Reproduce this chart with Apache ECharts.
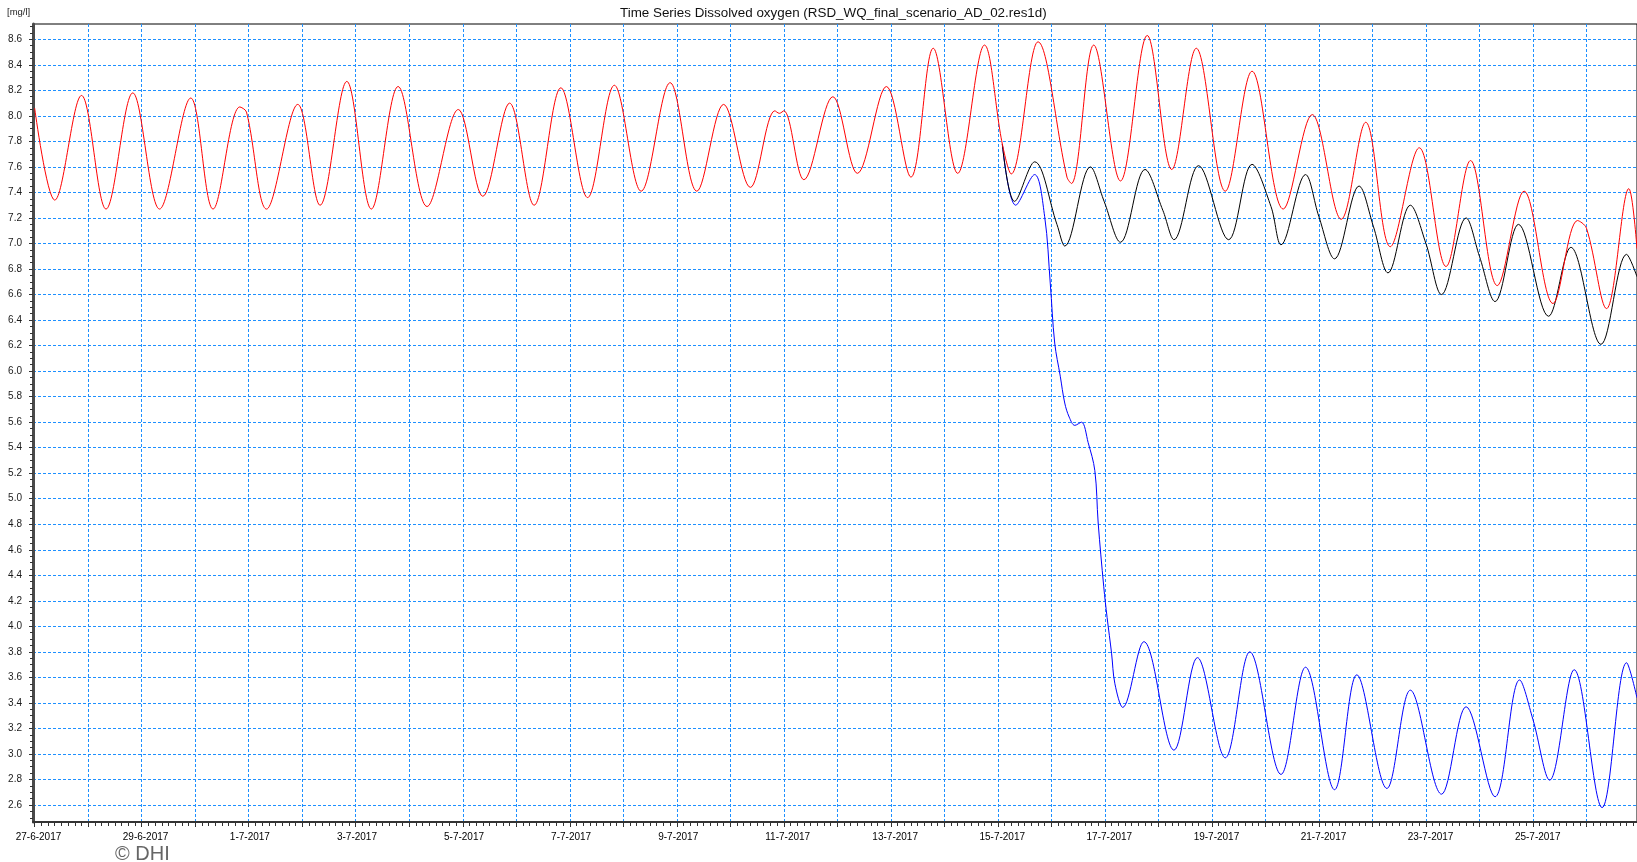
<!DOCTYPE html>
<html><head><meta charset="utf-8">
<script src="https://cdn.jsdelivr.net/npm/echarts@6/dist/echarts.min.js"></script>
<style>html,body{margin:0;padding:0;background:#fff;} #chart{width:1637px;height:862px;}</style>
</head><body><div id="chart"></div>
<script>
// ---- data ----
// shared part: all three scenarios coincide until 15-7 early morning
const commonDO = [
  ["2017-06-27 00:00", 8.06], ["2017-06-27 09:00", 7.34], ["2017-06-27 21:00", 8.16],
  ["2017-06-28 08:00", 7.27], ["2017-06-28 20:00", 8.18], ["2017-06-29 08:00", 7.27],
  ["2017-06-29 22:00", 8.14], ["2017-06-30 08:00", 7.27], ["2017-06-30 20:00", 8.07],
  ["2017-06-30 23:00", 8.03], ["2017-07-01 08:00", 7.27], ["2017-07-01 22:00", 8.09],
  ["2017-07-02 08:00", 7.30], ["2017-07-02 20:00", 8.27], ["2017-07-03 07:00", 7.27],
  ["2017-07-03 19:00", 8.23], ["2017-07-04 08:00", 7.29], ["2017-07-04 22:00", 8.05],
  ["2017-07-05 09:00", 7.37], ["2017-07-05 21:00", 8.10], ["2017-07-06 08:00", 7.30],
  ["2017-07-06 20:00", 8.22], ["2017-07-07 08:00", 7.36], ["2017-07-07 20:00", 8.24],
  ["2017-07-08 08:00", 7.41], ["2017-07-08 21:00", 8.26], ["2017-07-09 09:00", 7.41],
  ["2017-07-09 21:00", 8.09], ["2017-07-10 09:00", 7.44], ["2017-07-10 20:00", 8.04],
  ["2017-07-10 22:00", 8.02], ["2017-07-11 00:00", 8.04], ["2017-07-11 09:00", 7.50],
  ["2017-07-11 22:00", 8.15], ["2017-07-12 09:00", 7.55], ["2017-07-12 22:00", 8.23],
  ["2017-07-13 09:00", 7.52], ["2017-07-13 19:00", 8.53], ["2017-07-14 06:00", 7.55],
  ["2017-07-14 18:00", 8.555], ["2017-07-15 02:00", 7.78]
];
const redTail = [
  ["2017-07-15 06:00", 7.545], ["2017-07-15 18:00", 8.58], ["2017-07-16 07:00", 7.52],
  ["2017-07-16 09:00", 7.47], ["2017-07-16 19:00", 8.555], ["2017-07-17 07:00", 7.49],
  ["2017-07-17 19:00", 8.63], ["2017-07-18 06:00", 7.58], ["2017-07-18 17:00", 8.53],
  ["2017-07-19 06:00", 7.41], ["2017-07-19 18:00", 8.35], ["2017-07-20 08:00", 7.27],
  ["2017-07-20 21:00", 8.01], ["2017-07-21 10:00", 7.19], ["2017-07-21 21:00", 7.95],
  ["2017-07-22 08:00", 6.975], ["2017-07-22 21:00", 7.75], ["2017-07-23 09:00", 6.82],
  ["2017-07-23 20:00", 7.65], ["2017-07-24 08:00", 6.67], ["2017-07-24 20:00", 7.41],
  ["2017-07-25 09:00", 6.53], ["2017-07-25 20:00", 7.18], ["2017-07-26 00:00", 7.12],
  ["2017-07-26 09:00", 6.49], ["2017-07-26 19:00", 7.43], ["2017-07-26 22:40", 6.96]
];
const blackTail = [
  ["2017-07-15 07:30", 7.33], ["2017-07-15 16:30", 7.64], ["2017-07-16 02:30", 7.15],
  ["2017-07-16 06:00", 6.98], ["2017-07-16 17:30", 7.60], ["2017-07-16 23:40", 7.33],
  ["2017-07-17 07:00", 7.01], ["2017-07-17 18:00", 7.58], ["2017-07-18 02:00", 7.26],
  ["2017-07-18 07:00", 7.03], ["2017-07-18 18:00", 7.61], ["2017-07-19 07:30", 7.03],
  ["2017-07-19 18:00", 7.62], ["2017-07-20 02:30", 7.29], ["2017-07-20 07:00", 6.99],
  ["2017-07-20 18:00", 7.54], ["2017-07-21 00:00", 7.21], ["2017-07-21 07:00", 6.88],
  ["2017-07-21 18:00", 7.45], ["2017-07-22 00:30", 7.13], ["2017-07-22 07:00", 6.77],
  ["2017-07-22 17:00", 7.30], ["2017-07-23 00:00", 7.00], ["2017-07-23 07:00", 6.60],
  ["2017-07-23 18:00", 7.20], ["2017-07-24 00:00", 6.90], ["2017-07-24 07:00", 6.545],
  ["2017-07-24 17:30", 7.15], ["2017-07-25 07:00", 6.43], ["2017-07-25 17:00", 6.97],
  ["2017-07-26 06:30", 6.21], ["2017-07-26 18:00", 6.915], ["2017-07-26 22:40", 6.74]
];
const blueTail = [
  ["2017-07-15 08:00", 7.30], ["2017-07-15 16:30", 7.54], ["2017-07-15 21:00", 7.21],
  ["2017-07-15 23:30", 6.69], ["2017-07-16 01:30", 6.22], ["2017-07-16 04:00", 5.96],
  ["2017-07-16 06:00", 5.75], ["2017-07-16 08:00", 5.64], ["2017-07-16 10:30", 5.575],
  ["2017-07-16 13:30", 5.60], ["2017-07-16 16:30", 5.44], ["2017-07-16 19:30", 5.22],
  ["2017-07-16 21:00", 4.81], ["2017-07-16 23:30", 4.31], ["2017-07-17 01:00", 4.07],
  ["2017-07-17 03:00", 3.79], ["2017-07-17 04:30", 3.55], ["2017-07-17 08:00", 3.365],
  ["2017-07-17 17:30", 3.88], ["2017-07-18 07:00", 3.03], ["2017-07-18 17:30", 3.755],
  ["2017-07-19 06:00", 2.97], ["2017-07-19 17:00", 3.80], ["2017-07-20 07:00", 2.84],
  ["2017-07-20 18:00", 3.68], ["2017-07-21 07:00", 2.72], ["2017-07-21 17:00", 3.62],
  ["2017-07-22 06:30", 2.73], ["2017-07-22 17:00", 3.50], ["2017-07-23 07:00", 2.685],
  ["2017-07-23 18:00", 3.37], ["2017-07-24 07:00", 2.665], ["2017-07-24 18:00", 3.58],
  ["2017-07-25 00:00", 3.27], ["2017-07-25 07:30", 2.795], ["2017-07-25 18:30", 3.66],
  ["2017-07-26 07:00", 2.58], ["2017-07-26 18:00", 3.715], ["2017-07-26 22:40", 3.44]
];
const yTickLabels = [2.6, 2.8, 3.0, 3.2, 3.4, 3.6, 3.8, 4.0, 4.2, 4.4, 4.6, 4.8, 5.0, 5.2, 5.4,
  5.6, 5.8, 6.0, 6.2, 6.4, 6.6, 6.8, 7.0, 7.2, 7.4, 7.6, 7.8, 8.0, 8.2, 8.4, 8.6];
const xLabelDates = ["2017-06-27", "2017-06-29", "2017-07-01", "2017-07-03", "2017-07-05",
  "2017-07-07", "2017-07-09", "2017-07-11", "2017-07-13", "2017-07-15", "2017-07-17",
  "2017-07-19", "2017-07-21", "2017-07-23", "2017-07-25"];
const xStart = "2017-06-26 23:15", xEnd = "2017-07-26 22:40";
const yMin = 2.467, yMax = 8.72;
const titleText = "Time Series Dissolved oxygen (RSD_WQ_final_scenario_AD_02.res1d)";

// ---- helpers ----
function ts(s) {
  const parts = s.split(' ');
  const d = parts[0].split('-').map(Number);
  const t = (parts[1] || '00:00').split(':').map(Number);
  return Date.UTC(d[0], d[1] - 1, d[2], t[0], t[1]);
}
const toPts = arr => arr.map(p => [ts(p[0]), p[1]]);
const redData = toPts(commonDO.concat(redTail));
const blackData = toPts(commonDO.slice(-1).concat(blackTail));
const blueData = toPts(commonDO.slice(-1).concat(blueTail));
const DAY = 86400000, H3 = 3 * 3600000;
const dayTicks = [];
for (let v = ts("2017-06-27"); v <= ts(xEnd); v += DAY) dayTicks.push(v);
const minorX = [];
for (let v = ts("2017-06-27"); v <= ts(xEnd); v += H3) minorX.push(v);
const minorY = [];
for (let i = 0; i <= 124; i++) minorY.push(Math.round((2.5 + i * 0.05) * 100) / 100);
const fmtDate = v => { const d = new Date(v); return d.getUTCDate() + '-' + (d.getUTCMonth() + 1) + '-' + d.getUTCFullYear(); };

const FONT = "'Liberation Sans', Arial, sans-serif";
const gridColor = '#1e90ff';
const chart = echarts.init(document.getElementById('chart'), null, { renderer: 'canvas' });
chart.setOption({
  animation: false,
  backgroundColor: '#ffffff',
  title: {
    text: titleText, left: 620, top: 7, padding: 0,
    textStyle: { fontFamily: FONT, fontSize: 13.4, fontWeight: 'normal', color: '#111' }
  },
  graphic: [
    { type: 'text', left: 7, top: 7, style: { text: '[mg/l]', font: "9.5px 'Liberation Sans', Arial", fill: '#222' } },
    { type: 'text', left: 115, top: 844, style: { text: '© DHI', font: "20px 'Liberation Sans', Arial", fill: '#666' } }
  ],
  grid: [
    { left: 33, right: -1, top: 24, bottom: 40, show: true, borderColor: '#000', borderWidth: 1, backgroundColor: 'transparent' },
    // same width, shifted 19px left: carries the left-aligned date labels
    { left: 14, right: 18, top: 24, bottom: 40, show: false }
  ],
  xAxis: [
    {
      type: 'value', gridIndex: 0, min: ts(xStart), max: ts(xEnd), position: 'bottom',
      axisLine: { show: true, onZero: false, lineStyle: { color: '#333', width: 2 } },
      axisTick: { show: true, customValues: dayTicks, length: 5, lineStyle: { color: '#333' } },
      axisLabel: { show: false },
      splitLine: { show: true, lineStyle: { color: gridColor, type: [3, 2], width: 1 } }
    },
    {
      type: 'value', gridIndex: 0, min: ts(xStart), max: ts(xEnd), position: 'bottom',
      axisLine: { show: false, onZero: false },
      axisTick: { show: true, customValues: minorX, length: 4, lineStyle: { color: '#333' } },
      axisLabel: { show: false }, splitLine: { show: false }
    },
    {
      type: 'value', gridIndex: 1, min: ts(xStart), max: ts(xEnd), position: 'bottom',
      axisLine: { show: false, onZero: false }, axisTick: { show: false }, splitLine: { show: false },
      axisLabel: { customValues: xLabelDates.map(ts), formatter: fmtDate, align: 'left', margin: 10,
        fontSize: 10, color: '#000', fontFamily: FONT }
    }
  ],
  yAxis: [
    {
      type: 'value', gridIndex: 0, min: yMin, max: yMax, position: 'left',
      axisLine: { show: true, onZero: false, lineStyle: { color: '#4a4a4a', width: 3 } },
      axisTick: { show: true, customValues: yTickLabels, length: 4, lineStyle: { color: '#333' } },
      axisLabel: { customValues: yTickLabels, formatter: v => v.toFixed(1), margin: 11, fontSize: 10, color: '#1a1a1a', fontFamily: FONT },
      splitLine: { show: true, lineStyle: { color: gridColor, type: [3, 2], width: 1 } }
    },
    {
      type: 'value', gridIndex: 0, min: yMin, max: yMax, position: 'left',
      axisLine: { show: false, onZero: false },
      axisTick: { show: true, customValues: minorY, length: 3, lineStyle: { color: '#333' } },
      axisLabel: { show: false }, splitLine: { show: false }
    },
    { type: 'value', gridIndex: 1, min: yMin, max: yMax, show: false }
  ],
  series: [
    { name: 'blue', type: 'line', xAxisIndex: 0, yAxisIndex: 0, data: blueData, symbol: 'none', smooth: 0.35, silent: true, lineStyle: { color: '#0000ff', width: 1 } },
    { name: 'black', type: 'line', xAxisIndex: 0, yAxisIndex: 0, data: blackData, symbol: 'none', smooth: 0.35, silent: true, lineStyle: { color: '#000000', width: 1 } },
    { name: 'red', type: 'line', xAxisIndex: 0, yAxisIndex: 0, data: redData, symbol: 'none', smooth: 0.35, silent: true, lineStyle: { color: '#ff0000', width: 1 } }
  ]
});
</script>
</body></html>
